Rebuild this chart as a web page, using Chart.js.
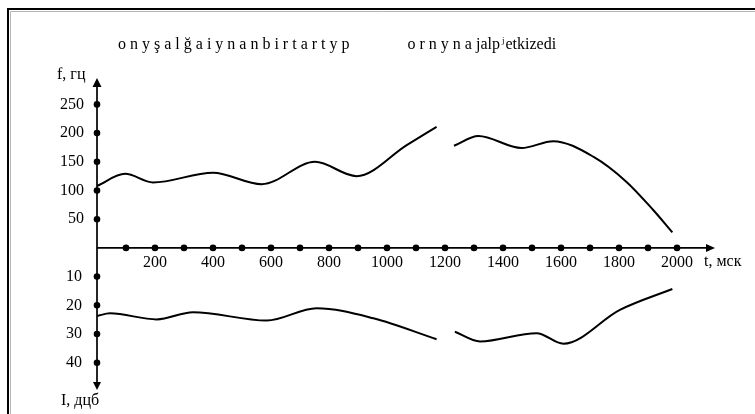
<!DOCTYPE html>
<html>
<head>
<meta charset="utf-8">
<script src="https://cdn.jsdelivr.net/npm/chart.js@4/dist/chart.umd.min.js"></script>
<style>
  html, body { margin: 0; padding: 0; background: #fff; }
  #wrap { width: 755px; height: 414px; position: relative; }
</style>
</head>
<body>
<div id="wrap"><canvas id="c" width="755" height="414"></canvas></div>
<script>
// Pitch contour f (Hz) over time t (ms), before and after the pause
const timeF1 = [0, 97, 193, 400, 568, 752, 895, 1068, 1171];
const freqF1 = [108, 129, 114, 131, 111, 150, 125, 179, 211];
const timeF2 = [1231, 1315, 1464, 1573, 1711, 1826, 1918, 1984];
const freqF2 = [178, 195, 174, 186, 159, 115, 66, 27];

// Intensity contour I (dB) over time t (ms), plotted downward
const timeI1 = [0, 45, 206, 331, 585, 757, 953, 1171];
const levelI1 = [23.7, 22.8, 24.9, 22.4, 25.3, 21.0, 24.5, 31.8];
const timeI2 = [1234, 1321, 1516, 1608, 1803, 1984];
const levelI2 = [29.2, 32.6, 29.7, 33.4, 21.6, 14.3];

// Axis marks and labels
const tDots = [100, 200, 300, 400, 500, 600, 700, 800, 900, 1000,
               1100, 1200, 1300, 1400, 1500, 1600, 1700, 1800, 1900, 2000];
const tLabels = [200, 400, 600, 800, 1000, 1200, 1400, 1600, 1800, 2000];
const fLabels = [50, 100, 150, 200, 250];
const iLabels = [10, 20, 30, 40];

const titleSpaced = 'o n y ş a l ğ a i y n a n b i r t a r t y p';
const titleSecond = 'o r n y n a jalp';
const titleSup = 'j';
const titleTail = 'etkizedi';
const tAxisName = 't, мск';
const fAxisName = 'f, гц';
const iAxisName = 'I, дцб';

const toPoints = (xs, ys) => xs.map((x, i) => ({ x: x, y: ys[i] }));

const FONT = '"Liberation Serif", "Times New Roman", serif';

const curveStyle = {
  borderColor: '#000',
  borderWidth: 2,
  pointRadius: 0,
  fill: false,
  cubicInterpolationMode: 'monotone'
};

const axesPlugin = {
  id: 'axesPlugin',
  beforeDatasetsDraw(chart) {
    const ctx = chart.ctx;
    const sx = chart.scales.x, sf = chart.scales.yF, si = chart.scales.yI;
    const x0 = sx.getPixelForValue(0);
    const y0 = sf.getPixelForValue(0);
    const xEnd = sx.right, yTop = sf.top, yBot = si.bottom;
    ctx.save();
    ctx.strokeStyle = '#000';
    ctx.fillStyle = '#000';
    ctx.lineWidth = 1.7;
    // axis lines
    ctx.beginPath();
    ctx.moveTo(x0, yTop + 6); ctx.lineTo(x0, yBot - 6);
    ctx.moveTo(x0, y0); ctx.lineTo(xEnd - 6, y0);
    ctx.stroke();
    // arrow heads
    ctx.beginPath();
    ctx.moveTo(x0, yTop); ctx.lineTo(x0 - 4.5, yTop + 9); ctx.lineTo(x0 + 4.5, yTop + 9); ctx.closePath();
    ctx.moveTo(x0, yBot); ctx.lineTo(x0 - 4, yBot - 8); ctx.lineTo(x0 + 4, yBot - 8); ctx.closePath();
    ctx.moveTo(xEnd, y0); ctx.lineTo(xEnd - 9, y0 - 4); ctx.lineTo(xEnd - 9, y0 + 4); ctx.closePath();
    ctx.fill();
    // tick dots
    const dot = (x, y) => { ctx.beginPath(); ctx.arc(x, y, 3.3, 0, Math.PI * 2); ctx.fill(); };
    tDots.forEach(v => dot(sx.getPixelForValue(v), y0));
    fLabels.forEach(v => dot(x0, sf.getPixelForValue(v)));
    iLabels.forEach(v => dot(x0, si.getPixelForValue(v)));
    // tick labels
    ctx.font = '16px ' + FONT;
    ctx.textBaseline = 'middle';
    ctx.textAlign = 'center';
    tLabels.forEach(v => ctx.fillText(String(v), sx.getPixelForValue(v), y0 + 15));
    ctx.textAlign = 'right';
    fLabels.forEach(v => ctx.fillText(String(v), x0 - 13, sf.getPixelForValue(v)));
    iLabels.forEach(v => ctx.fillText(String(v), x0 - 15, si.getPixelForValue(v)));
    // axis names
    ctx.textAlign = 'left';
    ctx.fillText(tAxisName, xEnd - 11, y0 + 14);
    ctx.fillText(fAxisName, x0 - 40, yTop - 3);
    ctx.fillText(iAxisName, x0 - 36, yBot + 11);
    // title
    ctx.font = '16px ' + FONT;
    let tx = 118;
    const ty = 45;
    ctx.fillText(titleSpaced, tx, ty);
    tx += ctx.measureText(titleSpaced).width + 58;
    ctx.fillText(titleSecond, tx, ty);
    tx += ctx.measureText(titleSecond).width + 2;
    ctx.font = '9px ' + FONT;
    ctx.fillText(titleSup, tx, ty - 4);
    tx += ctx.measureText(titleSup).width + 1;
    ctx.font = '16px ' + FONT;
    ctx.fillText(titleTail, tx, ty);
    // frame
    ctx.lineWidth = 2;
    ctx.beginPath();
    ctx.moveTo(8, 414); ctx.lineTo(8, 9); ctx.lineTo(755, 9);
    ctx.stroke();
    ctx.strokeStyle = '#b5b5b5';
    ctx.lineWidth = 1;
    ctx.beginPath();
    ctx.moveTo(10.5, 414); ctx.lineTo(10.5, 11.5); ctx.lineTo(755, 11.5);
    ctx.stroke();
    ctx.restore();
  }
};

new Chart(document.getElementById('c'), {
  type: 'line',
  data: {
    datasets: [
      Object.assign({ data: toPoints(timeF1, freqF1), yAxisID: 'yF' }, curveStyle),
      Object.assign({ data: toPoints(timeF2, freqF2), yAxisID: 'yF' }, curveStyle),
      Object.assign({ data: toPoints(timeI1, levelI1), yAxisID: 'yI' }, curveStyle),
      Object.assign({ data: toPoints(timeI2, levelI2), yAxisID: 'yI' }, curveStyle)
    ]
  },
  options: {
    responsive: false,
    animation: false,
    devicePixelRatio: 1,
    layout: { padding: { left: 97, right: 40, top: 78, bottom: 24 } },
    plugins: { legend: { display: false }, tooltip: { enabled: false }, title: { display: false } },
    scales: {
      x: { type: 'linear', min: 0, max: 2131, display: false },
      yF: { type: 'linear', position: 'left', min: -247.5, max: 296, display: false },
      yI: { type: 'linear', position: 'left', min: -59.2, max: 49.5, reverse: true, display: false }
    }
  },
  plugins: [axesPlugin]
});
</script>
</body>
</html>
